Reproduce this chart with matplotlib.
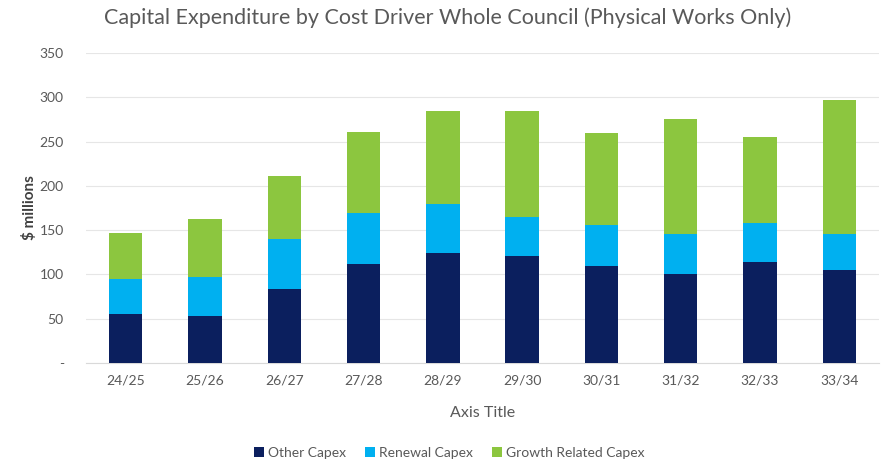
import matplotlib
matplotlib.use("Agg")
import matplotlib.pyplot as plt
import numpy as np
from matplotlib.ticker import FuncFormatter

plt.rcParams['font.family'] = ['Lato', 'DejaVu Sans']

years = ["24/25", "25/26", "26/27", "27/28", "28/29", "29/30", "30/31", "31/32", "32/33", "33/34"]
other_capex = [55, 53, 84, 112, 124, 121, 109, 100, 114, 105]
renewal_capex = [40, 44, 56, 57, 55, 44, 47, 46, 44, 41]
growth_capex = [52, 66, 71, 92, 105, 120, 104, 129, 97, 151]

series = [
    ("Other Capex", other_capex, "#0b1f5e"),
    ("Renewal Capex", renewal_capex, "#00b0f0"),
    ("Growth Related Capex", growth_capex, "#8cc63f"),
]

fig = plt.figure(figsize=(8.81, 4.63), dpi=100)
ax = fig.add_axes([86 / 881, 1 - 363 / 463, (879 - 86) / 881, (363 - 53) / 463])

x = np.arange(len(years))
bottom = np.zeros(len(years))
for name, vals, color in series:
    ax.bar(x, vals, width=0.42, bottom=bottom, color=color, label=name, zorder=3)
    bottom += np.array(vals)

ax.set_xlim(-0.5, len(years) - 0.5)
ax.set_ylim(0, 350)
ax.set_yticks(np.arange(0, 351, 50))
ax.yaxis.set_major_formatter(FuncFormatter(lambda v, p: "-" if v == 0 else f"{int(v)}"))
ax.set_xticks(x)
ax.set_xticklabels(years)
ax.grid(axis="y", color="#e6e6e6", linewidth=0.8, zorder=0)
for s in ["top", "right", "left"]:
    ax.spines[s].set_visible(False)
ax.spines["bottom"].set_color("#d9d9d9")
ax.tick_params(axis="both", length=0, labelsize=10, labelcolor="#595959")
ax.tick_params(axis="x", pad=8)
ax.tick_params(axis="y", pad=16)

ax.set_xlabel("Axis Title", fontsize=11.5, color="#595959", labelpad=14)
ax.set_ylabel("$ millions", fontsize=11, color="#404040", fontweight="bold")
ax.yaxis.set_label_coords(-0.062, 0.5)

fig.suptitle("Capital Expenditure by Cost Driver Whole Council (Physical Works Only)",
             x=0.508, y=0.985, fontsize=15.5, color="#595959")

fig.legend(loc="center", bbox_to_anchor=(0.51, 1 - 453 / 463), ncol=3, frameon=False,
           fontsize=10, labelcolor="#595959", handlelength=0.7, handleheight=0.7,
           handletextpad=0.3, columnspacing=1.4)

fig.savefig("out.png", dpi=100)
